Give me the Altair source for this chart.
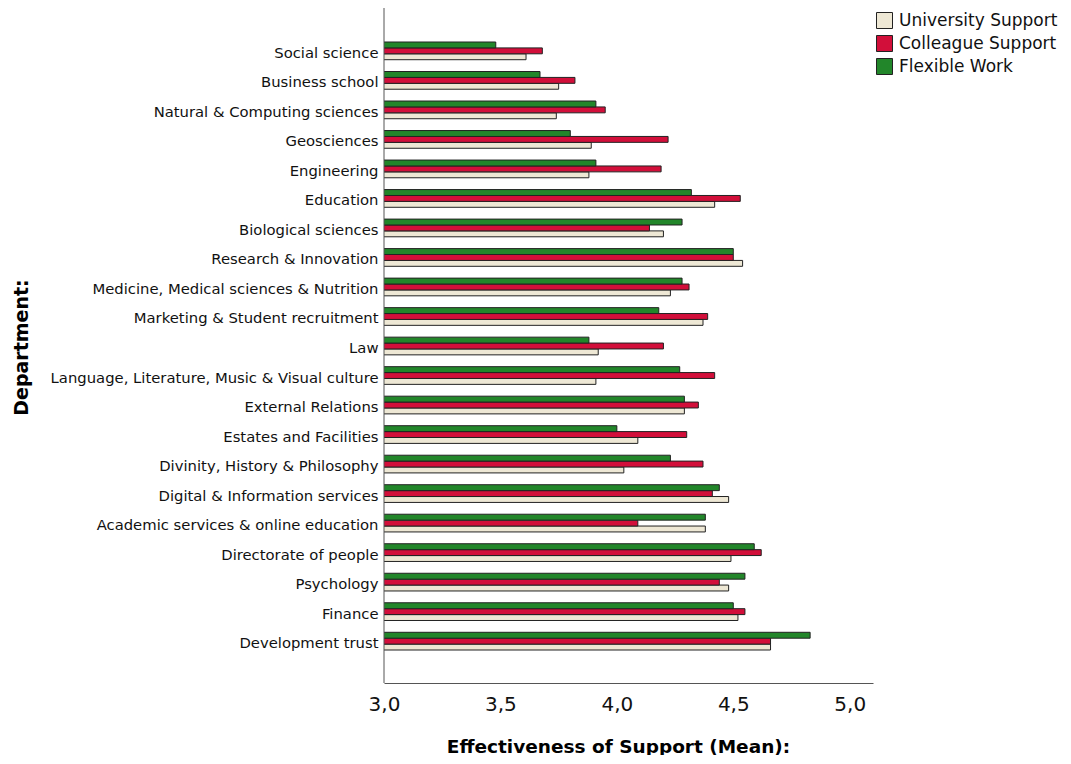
import altair as alt
import pandas as pd

departments = [
    "Social science", "Business school", "Natural & Computing sciences", "Geosciences",
    "Engineering", "Education", "Biological sciences", "Research & Innovation",
    "Medicine, Medical sciences & Nutrition", "Marketing & Student recruitment", "Law",
    "Language, Literature, Music & Visual culture", "External Relations",
    "Estates and Facilities", "Divinity, History & Philosophy",
    "Digital & Information services", "Academic services & online education",
    "Directorate of people", "Psychology", "Finance", "Development trust",
]
university_support = [3.61, 3.75, 3.74, 3.89, 3.88, 4.42, 4.20, 4.54, 4.23, 4.37, 3.92,
                      3.91, 4.29, 4.09, 4.03, 4.48, 4.38, 4.49, 4.48, 4.52, 4.66]
colleague_support = [3.68, 3.82, 3.95, 4.22, 4.19, 4.53, 4.14, 4.50, 4.31, 4.39, 4.20,
                     4.42, 4.35, 4.30, 4.37, 4.41, 4.09, 4.62, 4.44, 4.55, 4.66]
flexible_work = [3.48, 3.67, 3.91, 3.80, 3.91, 4.32, 4.28, 4.50, 4.28, 4.18, 3.88,
                 4.27, 4.29, 4.00, 4.23, 4.44, 4.38, 4.59, 4.55, 4.50, 4.83]

series_names = ["University Support", "Colleague Support", "Flexible Work"]
series_colors = ["#EEE8D5", "#D20F3A", "#22862A"]
stack_order = ["Flexible Work", "Colleague Support", "University Support"]
x_ticks = [3.0, 3.5, 4.0, 4.5, 5.0]

rows = []
for i, d in enumerate(departments):
    for name, vals in zip(series_names, [university_support, colleague_support, flexible_work]):
        rows.append({"Department": d, "Series": name, "Mean": vals[i]})
df = pd.DataFrame(rows)

FONT = "DejaVu Sans"
PLOT_H = 675

bars = alt.Chart(df).mark_bar(
    stroke="#222222", strokeWidth=1, clip=True
).encode(
    y=alt.Y(
        "Department:N", sort=departments,
        scale=alt.Scale(paddingInner=0.4, paddingOuter=0, range=[34, 642]),
        axis=alt.Axis(
            title="Department:", titleFont=FONT, titleFontSize=19, titleFontWeight="bold",
            titleAngle=-90, titleX=-363, titleY=339, titleAlign="center", titleBaseline="middle",
            labelFont=FONT, labelFontSize=14.8, labelColor="#111111", labelPadding=6,
            labelOffset=3, ticks=False, domain=False, labelLimit=400,
        ),
    ),
    yOffset=alt.YOffset("Series:N", sort=stack_order, scale=alt.Scale(domain=stack_order)),
    x=alt.X(
        "Mean:Q",
        scale=alt.Scale(domain=[3.0, 5.1], nice=False, zero=False),
        axis=alt.Axis(
            title="Effectiveness of Support (Mean):", titleFont=FONT, titleFontSize=18.5,
            titleFontWeight="bold", titleX=234, titleY=63, titleBaseline="middle",
            titleAnchor="middle", titleAlign="center",
            values=x_ticks, labelExpr="replace(format(datum.value, '.1f'), '.', ',')",
            labelFont=FONT, labelFontSize=20, labelColor="#111111", labelPadding=11,
            labelFlush=False,
            ticks=False, grid=False, domainColor="#555555",
        ),
    ),
    color=alt.Color(
        "Series:N",
        scale=alt.Scale(domain=series_names, range=series_colors),
        legend=alt.Legend(
            title=None, orient="none", legendX=492, legendY=4,
            symbolType="square", symbolSize=256, symbolStrokeColor="#222222",
            symbolStrokeWidth=1, symbolOpacity=1,
            labelFont=FONT, labelFontSize=17, labelColor="#111111", labelOffset=6,
            rowPadding=2, labelLimit=300,
        ),
    ),
)

y_axis_line = alt.Chart(pd.DataFrame({"k": [0]})).mark_rule(
    color="#555555", strokeWidth=1
).encode(x=alt.value(0), y=alt.value(0), y2=alt.value(PLOT_H))

chart = alt.layer(bars, y_axis_line).properties(
    width=489, height=PLOT_H,
    background="white",
    autosize=alt.AutoSizeParams(type="none"),
    padding={"left": 376, "top": 0, "right": 190, "bottom": 72},
).configure_view(stroke=None)

chart.save("out.html", embed_options={"renderer": "svg", "actions": False})
